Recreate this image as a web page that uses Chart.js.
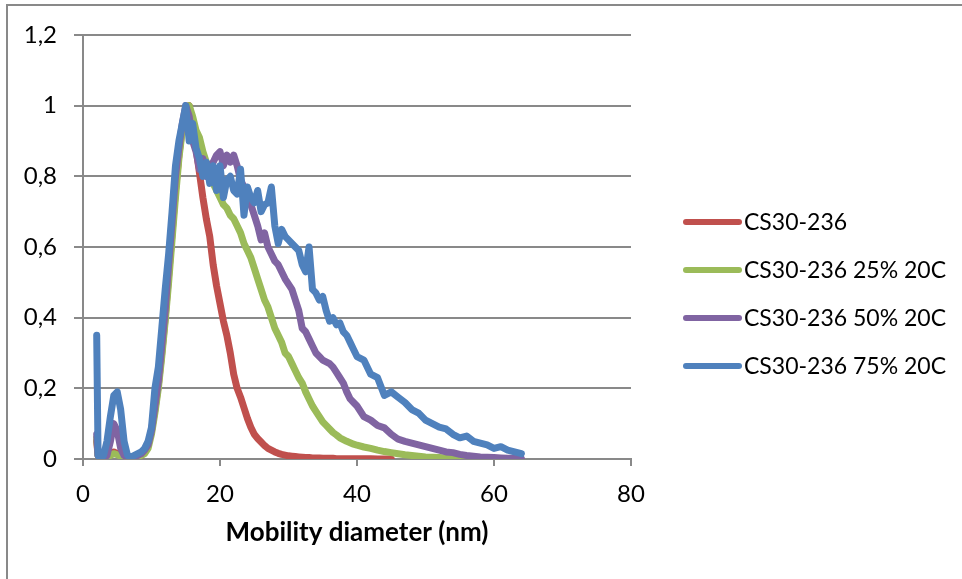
<!DOCTYPE html>
<html>
<head>
<meta charset="utf-8">
<script src="https://cdn.jsdelivr.net/npm/chart.js@4.4.0/dist/chart.umd.min.js"></script>
<style>
    html, body { margin: 0; padding: 0; background: #fff; }
    #wrap { position: relative; width: 962px; height: 579px; }
</style>
</head>
<body>
<div id="wrap"><canvas id="sizeChart"></canvas></div>
<script>
// mobility diameter (nm), shared by all series
const diameter = [
    2, 2.2, 2.5, 3, 3.5, 4, 4.5, 5, 5.5, 6, 6.5, 7, 7.5, 8, 8.5, 9, 9.5,
    10, 10.5, 11, 11.5, 12, 12.5, 13, 13.5, 14, 14.5, 15, 15.5, 16, 16.5, 17, 17.5, 18, 18.5, 19, 19.5,
    20, 20.5, 21, 21.5, 22, 22.5, 23, 23.5, 24, 24.5, 25, 25.5, 26, 26.5, 27, 27.5, 28, 28.5, 29, 29.5,
    30, 30.5, 31, 31.5, 32, 32.5, 33, 33.5, 34, 34.5, 35, 35.5, 36, 36.5, 37, 37.5, 38, 38.5, 39, 39.5,
    40, 41, 42, 43, 44, 45, 46, 47, 48, 49, 50, 51, 52, 53, 54, 55, 56, 57, 58, 59, 60, 61, 62, 63, 64
];

const seriesNames = ['CS30-236', 'CS30-236 25% 20C', 'CS30-236 50% 20C', 'CS30-236 75% 20C'];

const cs30 = [
    0.05, 0.01, 0, 0, 0.005, 0.015, 0.02, 0.015, 0.01, 0.005, 0.003, 0.003, 0.003, 0.004, 0.01, 0.02, 0.04,
    0.08, 0.14, 0.21, 0.3, 0.4, 0.52, 0.64, 0.76, 0.86, 0.94, 0.99, 1.0, 0.95, 0.88, 0.81, 0.74, 0.68, 0.63, 0.55, 0.49,
    0.44, 0.39, 0.35, 0.3, 0.24, 0.2, 0.175, 0.145, 0.115, 0.09, 0.07, 0.058, 0.048, 0.038, 0.03, 0.025, 0.02, 0.016, 0.013, 0.011,
    0.009, 0.008, 0.007, 0.006, 0.005, 0.004, 0.004, 0.003, 0.003, 0.003, 0.002, 0.002, 0.002, 0.002, 0.001, 0.001, 0.001, 0.001, 0.001, 0.001,
    0.001, 0.001, 0.001, 0, 0, 0, null, null, null, null, null, null, null, null, null, null, null, null, null, null, null, null, null, null, null
];

const cs30rh25 = [
    0.06, 0.01, 0, 0, 0.005, 0.01, 0.015, 0.012, 0.008, 0.005, 0.004, 0.004, 0.005, 0.006, 0.01, 0.015, 0.03,
    0.07, 0.13, 0.2, 0.29, 0.39, 0.5, 0.62, 0.74, 0.85, 0.93, 0.98, 1.0, 0.97, 0.93, 0.91, 0.87, 0.84, 0.8, 0.78, 0.76,
    0.74, 0.72, 0.71, 0.69, 0.68, 0.66, 0.64, 0.61, 0.59, 0.57, 0.54, 0.51, 0.48, 0.45, 0.43, 0.4, 0.37, 0.35, 0.33, 0.3,
    0.29, 0.27, 0.25, 0.23, 0.215, 0.19, 0.17, 0.15, 0.135, 0.12, 0.105, 0.095, 0.085, 0.075, 0.068, 0.06, 0.055, 0.05, 0.046, 0.042,
    0.039, 0.034, 0.03, 0.025, 0.021, 0.018, 0.015, 0.012, 0.01, 0.008, 0.006, 0.005, 0.004, 0.003, 0.003, 0.002, 0.002, 0.001, 0.001, 0, null, null, null, null, null
];

const cs30rh50 = [
    0.07, 0.01, 0, 0, 0.01, 0.05, 0.1, 0.08, 0.03, 0.01, 0.005, 0.005, 0.008, 0.01, 0.015, 0.025, 0.04,
    0.08, 0.15, 0.22, 0.32, 0.42, 0.55, 0.67, 0.8, 0.88, 0.95, 1.0, 0.97, 0.9, 0.87, 0.82, 0.85, 0.8, 0.83, 0.84, 0.86,
    0.87, 0.83, 0.86, 0.84, 0.86, 0.83, 0.79, 0.77, 0.75, 0.72, 0.69, 0.66, 0.62, 0.64, 0.6, 0.58, 0.56, 0.55, 0.53, 0.51,
    0.495, 0.48, 0.45, 0.42, 0.37, 0.36, 0.34, 0.32, 0.3, 0.29, 0.28, 0.275, 0.27, 0.26, 0.245, 0.23, 0.215, 0.19, 0.17, 0.16,
    0.15, 0.12, 0.11, 0.095, 0.088, 0.07, 0.056, 0.05, 0.045, 0.04, 0.035, 0.03, 0.025, 0.02, 0.018, 0.013, 0.01, 0.008, 0.006, 0.005, 0.004, 0.003, 0.002, 0.002, 0.001
];

const cs30rh75 = [
    0.35, 0.01, 0, 0.01, 0.05, 0.12, 0.18, 0.19, 0.14, 0.05, 0.01, 0.005, 0.01, 0.015, 0.02, 0.03, 0.05,
    0.09, 0.2, 0.26, 0.37, 0.48, 0.58, 0.7, 0.83, 0.9, 0.95, 1.0, 0.9, 0.95, 0.88, 0.85, 0.8, 0.84, 0.78, 0.83, 0.76,
    0.83, 0.74, 0.79, 0.8, 0.76, 0.75, 0.82, 0.69, 0.77, 0.74, 0.725, 0.76, 0.7, 0.72, 0.725, 0.77, 0.66, 0.61, 0.65, 0.63,
    0.62, 0.61, 0.6, 0.59, 0.55, 0.53, 0.6, 0.48, 0.47, 0.45, 0.46, 0.42, 0.39, 0.4, 0.38, 0.385, 0.36, 0.35, 0.33, 0.31,
    0.29, 0.28, 0.24, 0.23, 0.18, 0.19, 0.175, 0.16, 0.14, 0.13, 0.11, 0.1, 0.09, 0.085, 0.07, 0.06, 0.065, 0.05, 0.045, 0.04, 0.03, 0.035, 0.025, 0.02, 0.015
];

const xTicks = [0, 20, 40, 60, 80];
const yTicks = [0, 0.2, 0.4, 0.6, 0.8, 1, 1.2];

const seriesValues = [cs30, cs30rh25, cs30rh50, cs30rh75];
const seriesColors = ['#C0504D', '#9BBB59', '#8064A2', '#4F81BD'];
const FONT = 'Lato';
const GRID = '#898989';

function toPoints(values) {
    return diameter.map((d, i) => ({ x: d, y: values[i] }));
}

// gray frame on the left and top like the Excel chart object
const framePlugin = {
    id: 'frame',
    beforeDraw(chart) {
        const ctx = chart.ctx;
        ctx.save();
        ctx.strokeStyle = GRID;
        ctx.lineWidth = 2;
        ctx.beginPath();
        ctx.moveTo(7, chart.height);
        ctx.lineTo(7, 5);
        ctx.lineTo(chart.width, 5);
        ctx.stroke();
        ctx.restore();
    }
};

// legend to the right, line samples + names
const lineLegend = {
    id: 'lineLegend',
    afterDraw(chart) {
        const ctx = chart.ctx;
        const x0 = chart.chartArea.right + 54;
        const y0 = 222;
        ctx.save();
        ctx.font = '23px ' + FONT;
        ctx.textBaseline = 'middle';
        ctx.fillStyle = '#000';
        chart.data.datasets.forEach((ds, i) => {
            const y = y0 + i * 48;
            ctx.strokeStyle = ds.borderColor;
            ctx.lineWidth = 6;
            ctx.lineCap = 'round';
            ctx.beginPath();
            ctx.moveTo(x0 + 1, y);
            ctx.lineTo(x0 + 54, y);
            ctx.stroke();
            ctx.fillText(ds.label, x0 + 59, y + 1);
        });
        ctx.restore();
    }
};

const datasets = seriesNames.map((name, i) => ({
    label: name,
    data: toPoints(seriesValues[i]),
    borderColor: seriesColors[i],
    backgroundColor: seriesColors[i],
    borderWidth: 7,
    pointRadius: 0,
    tension: 0,
    borderJoinStyle: 'round',
    borderCapStyle: 'round',
    spanGaps: false,
    order: seriesNames.length - 1 - i
}));

new Chart(document.getElementById('sizeChart'), {
    type: 'line',
    data: { datasets: datasets },
    options: {
        responsive: true,
        maintainAspectRatio: false,
        animation: false,
        layout: {
            padding: { left: 0, right: 331, top: 35, bottom: 0 }
        },
        plugins: {
            legend: { display: false },
            tooltip: { enabled: false }
        },
        scales: {
            x: {
                type: 'linear',
                min: 0,
                max: 80,
                afterBuildTicks: (scale) => { scale.ticks = xTicks.map(v => ({ value: v })); },
                afterFit: (scale) => { scale.height = 120; },
                grid: {
                    drawOnChartArea: false,
                    drawTicks: true,
                    tickLength: 7,
                    color: GRID,
                    lineWidth: 2
                },
                border: { display: true, color: GRID, width: 2 },
                ticks: {
                    color: '#000',
                    padding: 14,
                    maxRotation: 0,
                    font: { size: 24, family: FONT }
                },
                title: {
                    display: true,
                    text: 'Mobility diameter (nm)',
                    color: '#000',
                    padding: { top: 0, bottom: 31 },
                    font: { size: 26, family: FONT, weight: 'bold' }
                }
            },
            y: {
                min: 0,
                max: 1.2,
                afterBuildTicks: (scale) => { scale.ticks = yTicks.map(v => ({ value: v })); },
                afterFit: (scale) => { scale.width = 83; },
                grid: {
                    drawTicks: true,
                    tickLength: 9,
                    color: GRID,
                    lineWidth: 2
                },
                border: { display: true, color: GRID, width: 2 },
                ticks: {
                    color: '#000',
                    padding: 17,
                    font: { size: 24, family: FONT },
                    callback: (v) => String(Math.round(v * 10) / 10).replace('.', ',')
                }
            }
        }
    },
    plugins: [framePlugin, lineLegend]
});
</script>
</body>
</html>
